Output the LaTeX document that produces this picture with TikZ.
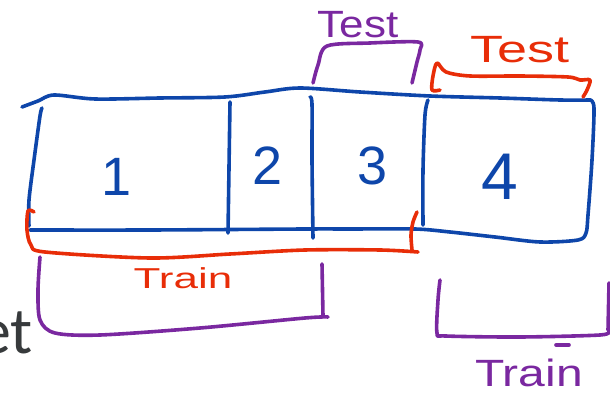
\documentclass[tikz,border=0pt]{standalone}
\usepackage{fontspec}
\newfontfamily\handfont{Liberation Sans}
\newfontfamily\bodyfont{Carlito}
\definecolor{inkblue}{RGB}{14,70,170}
\definecolor{inkred}{RGB}{232,45,8}
\definecolor{inkpurple}{RGB}{122,40,160}
\definecolor{txtgray}{RGB}{55,58,60}
\tikzset{
  ink/.style={line width=3.6pt, line cap=round, line join=round},
  digit/.style={inner sep=0pt, text=inkblue, font=\handfont\fontsize{54}{58}\selectfont},
  lbl/.style={inner sep=0pt, font=\handfont\fontsize{40}{44}\selectfont},
}
\begin{document}
\begin{tikzpicture}[x=1pt,y=-1pt]
\clip (0,0) rectangle (610,395);
\useasboundingbox (0,0) rectangle (610,395);

% partial text at left
\node[anchor=base east, inner sep=0pt, text=txtgray, font=\bodyfont\fontsize{66}{70}\selectfont] (et) at (33,353) {et};

% blue rectangle
\draw[ink,inkblue] plot[smooth,tension=0.5] coordinates {(22,107) (38,101) (54,95) (95,99) (160,98) (225,97) (265,92) (300,88) (360,92) (430,96) (500,98) (560,100) (590,100)};
\draw[ink,inkblue] plot[smooth,tension=0.5] coordinates {(590,100) (594,108) (592,160) (588,215) (586,233) (578,240) (540,242) (495,237) (450,232) (415,229) (350,229) (305,229) (150,230) (30,230)};
\draw[ink,inkblue] plot[smooth,tension=0.5] coordinates {(42,108) (40,116) (34,160) (29,200) (29,226)};
\draw[ink,inkblue] (230,102) -- (228,233);
\draw[ink,inkblue] plot[smooth,tension=0.5] coordinates {(310,97) (312,104) (312,160) (313,238)};
\draw[ink,inkblue] plot[smooth,tension=0.5] coordinates {(428,100) (425,115) (423,170) (423,225)};

% digits
\node[digit] (n1) at (117,177) {1};
\node[digit] (n2) at (268,166) {2};
\node[digit] (n3) at (373,166) {3};
\node[digit, font=\handfont\fontsize{66}{70}\selectfont] (n4) at (500,177) {4};

% red bottom bracket (Train)
\draw[ink,inkred] plot[smooth,tension=0.5] coordinates {(34,212) (28,211) (27,230) (31,245) (45,252) (150,258) (230,254) (305,250) (380,250) (418,252)};
\draw[ink,inkred] plot[smooth,tension=0.5] coordinates {(412,250) (411,235) (413,222) (417,212)};
\node[lbl, text=inkred] (trainA) at (183,278) {\scalebox{1.1}[0.72]{Train}};

% purple bottom-left bracket
\draw[ink,inkpurple] plot[smooth,tension=0.5] coordinates {(40,257) (38,290) (40,320) (55,333) (100,335) (200,328) (305,318) (328,317)};
\draw[ink,inkpurple] (322,264) -- (323,316);

% purple bottom-right bracket (Train)
\draw[ink,inkpurple] plot[smooth,tension=0.5] coordinates {(440,280) (438,300) (437,333) (446,336) (520,337) (600,335) (609,331)};
\draw[ink,inkpurple] (609,283) -- (608,330);
\draw[ink,inkpurple] (556,345) -- (569,345);
\node[lbl, text=inkpurple] (trainB) at (529,373) {\scalebox{1.2}[0.95]{Train}};

% purple top bracket (Test)
\draw[ink,inkpurple] plot[smooth,tension=0.5] coordinates {(313,83) (318,65) (327,46) (370,43) (418,42) (420,50) (417,62) (412,83)};
\node[lbl, text=inkpurple] (testA) at (358,25) {\scalebox{1.1}[0.95]{Test}};

% red top bracket (Test)
\draw[ink,inkred] plot[smooth,tension=0.5] coordinates {(440,90) (432,90) (433,76) (437,63) (446,72) (470,76) (520,76) (568,77) (580,80) (590,80) (587,90) (583,97)};
\node[lbl, text=inkred] (testB) at (520,50) {\scalebox{1.35}[0.95]{Test}};
\end{tikzpicture}
\end{document}
